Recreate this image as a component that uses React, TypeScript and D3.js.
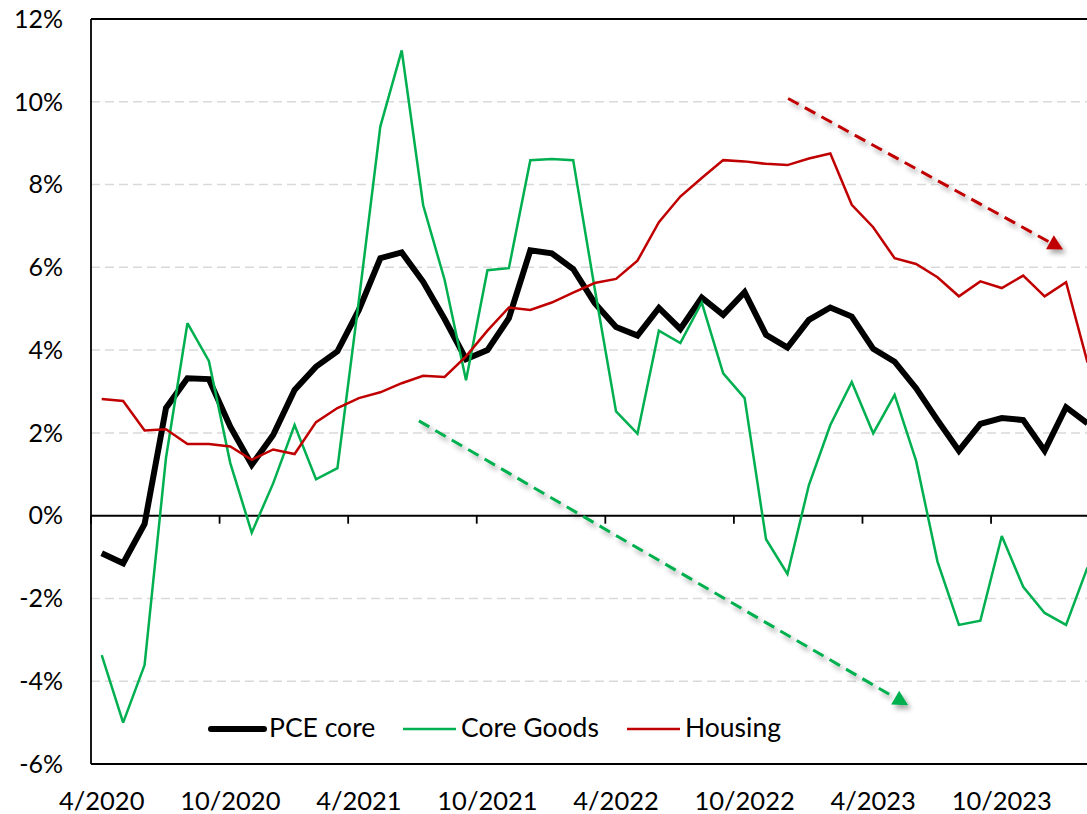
import React, { useEffect, useRef } from "react";
import * as d3 from "d3";

// monthly categories, 4/2020 .. 2/2024
const months = [
  "4/2020", "5/2020", "6/2020", "7/2020", "8/2020", "9/2020", "10/2020", "11/2020", "12/2020",
  "1/2021", "2/2021", "3/2021", "4/2021", "5/2021", "6/2021", "7/2021", "8/2021", "9/2021",
  "10/2021", "11/2021", "12/2021", "1/2022", "2/2022", "3/2022", "4/2022", "5/2022", "6/2022",
  "7/2022", "8/2022", "9/2022", "10/2022", "11/2022", "12/2022", "1/2023", "2/2023", "3/2023",
  "4/2023", "5/2023", "6/2023", "7/2023", "8/2023", "9/2023", "10/2023", "11/2023", "12/2023",
  "1/2024", "2/2024",
];

const pceCore = [
  -0.91, -1.15, -0.2, 2.6, 3.32, 3.3, 2.15, 1.23, 1.95, 3.04, 3.6, 3.97, 4.97, 6.22, 6.36, 5.65,
  4.75, 3.78, 4.0, 4.77, 6.41, 6.34, 5.96, 5.14, 4.56, 4.35, 5.02, 4.51, 5.27, 4.85, 5.4, 4.37,
  4.06, 4.73, 5.03, 4.81, 4.03, 3.72, 3.08, 2.31, 1.57, 2.22, 2.36, 2.31, 1.57, 2.62, 2.23,
];

const coreGoods = [
  -3.37, -5.0, -3.61, 1.4, 4.65, 3.74, 1.27, -0.41, 0.78, 2.19, 0.88, 1.15, 5.2, 9.4, 11.24, 7.5,
  5.7, 3.27, 5.93, 5.98, 8.59, 8.62, 8.59, 5.5, 2.52, 1.98, 4.47, 4.17, 5.15, 3.44, 2.84, -0.57,
  -1.41, 0.74, 2.19, 3.23, 1.99, 2.92, 1.33, -1.11, -2.64, -2.54, -0.49, -1.72, -2.35, -2.64, -1.25,
];

const housing = [
  2.82, 2.77, 2.06, 2.09, 1.73, 1.73, 1.67, 1.35, 1.6, 1.49, 2.26, 2.6, 2.84, 2.98, 3.2, 3.38,
  3.35, 3.85, 4.47, 5.03, 4.97, 5.15, 5.39, 5.62, 5.72, 6.16, 7.09, 7.71, 8.16, 8.59, 8.56, 8.5,
  8.47, 8.63, 8.75, 7.51, 6.97, 6.22, 6.08, 5.76, 5.3, 5.66, 5.5, 5.8, 5.3, 5.64, 3.7,
];

const yTicks = [-6, -4, -2, 0, 2, 4, 6, 8, 10, 12];

// trend arrows: [month index, value]
const housingTrend = [[32.03, 10.08], [44.86, 6.43]];
const goodsTrend = [[14.8, 2.29], [37.63, -4.58]];

const series = [
  { name: "PCE core", values: pceCore, color: "#000000", width: 6 },
  { name: "Core Goods", values: coreGoods, color: "#00B050", width: 2.5 },
  { name: "Housing", values: housing, color: "#C00000", width: 2.5 },
];

const FONT = "Lato, 'Open Sans', sans-serif";

export default function App() {
  const ref = useRef<SVGSVGElement>(null);

  useEffect(() => {
    const svg = d3.select(ref.current);
    svg.selectAll("*").remove();

    const left = 91, top = 19, bottom = 764;
    const step = 21.43;
    const n = months.length;

    const x = d3.scaleLinear().domain([-0.5, n - 0.5]).range([left, left + step * n]);
    const y = d3.scaleLinear().domain([-6, 12]).range([bottom, top]);

    const defs = svg.append("defs");
    const f = defs.append("filter").attr("id", "shadow").attr("x", "-20%").attr("y", "-20%")
      .attr("width", "140%").attr("height", "140%");
    f.append("feDropShadow").attr("dx", 3).attr("dy", 4).attr("stdDeviation", 2.5)
      .attr("flood-color", "#000").attr("flood-opacity", 0.35);

    // gridlines
    svg.append("g").selectAll("line")
      .data(yTicks.filter(d => d !== 0 && d !== -6 && d !== 12))
      .enter().append("line")
      .attr("x1", left).attr("x2", 1087)
      .attr("y1", d => y(d)).attr("y2", d => y(d))
      .attr("stroke", "#d9d9d9").attr("stroke-width", 1.5).attr("stroke-dasharray", "9,5");

    // frame
    svg.append("line").attr("x1", left).attr("x2", 1087).attr("y1", y(12)).attr("y2", y(12))
      .attr("stroke", "#000").attr("stroke-width", 1.8);
    svg.append("line").attr("x1", left).attr("x2", 1087).attr("y1", y(-6)).attr("y2", y(-6))
      .attr("stroke", "#000").attr("stroke-width", 1.8);
    svg.append("line").attr("x1", left).attr("x2", left).attr("y1", y(12)).attr("y2", y(-6))
      .attr("stroke", "#000").attr("stroke-width", 1.8);

    // zero axis with ticks between categories
    svg.append("line").attr("x1", left).attr("x2", 1087).attr("y1", y(0)).attr("y2", y(0))
      .attr("stroke", "#000").attr("stroke-width", 2);
    const tickIdx = d3.range(-0.5, n, 6);
    svg.append("g").selectAll("line").data(tickIdx).enter().append("line")
      .attr("x1", d => x(d)).attr("x2", d => x(d))
      .attr("y1", y(0)).attr("y2", y(0) + 8)
      .attr("stroke", "#000").attr("stroke-width", 1.8);

    // y labels
    svg.append("g").selectAll("text").data(yTicks).enter().append("text")
      .attr("x", 63).attr("y", d => y(d)).attr("dy", "0.35em")
      .attr("text-anchor", "end").attr("font-family", FONT).attr("font-size", 25)
      .attr("fill", "#000").text(d => d + "%");

    // x labels
    svg.append("g").selectAll("text")
      .data(months.map((m, i) => ({ m, i })).filter(d => d.i % 6 === 0))
      .enter().append("text")
      .attr("x", d => x(d.i)).attr("y", 810)
      .attr("text-anchor", "middle").attr("font-family", FONT).attr("font-size", 25.5)
      .attr("fill", "#000").text(d => d.m);

    // series
    const line = d3.line<number>().x((_, i) => x(i)).y(d => y(d));
    series.forEach(s => {
      svg.append("path").datum(s.values)
        .attr("d", line)
        .attr("fill", "none").attr("stroke", s.color).attr("stroke-width", s.width)
        .attr("stroke-linejoin", "miter").attr("stroke-miterlimit", 3);
    });

    // trend arrows
    const arrow = (pts: number[][], color: string) => {
      const [x0, y0] = [x(pts[0][0]), y(pts[0][1])];
      const [x1, y1] = [x(pts[1][0]), y(pts[1][1])];
      const len = Math.hypot(x1 - x0, y1 - y0);
      const ux = (x1 - x0) / len, uy = (y1 - y0) / len;
      const hl = 15, hw = 8;
      const bx = x1 - ux * hl, by = y1 - uy * hl;
      const g = svg.append("g").attr("filter", "url(#shadow)");
      g.append("line").attr("x1", x0).attr("y1", y0).attr("x2", bx).attr("y2", by)
        .attr("stroke", color).attr("stroke-width", 3).attr("stroke-dasharray", "12,7");
      g.append("polygon")
        .attr("points", [
          [x1, y1],
          [bx - uy * hw, by + ux * hw],
          [bx + uy * hw, by - ux * hw],
        ].map(p => p.join(",")).join(" "))
        .attr("fill", color);
    };
    arrow(housingTrend, "#C00000");
    arrow(goodsTrend, "#00B050");

    // legend
    const legendX = [211, 403, 627];
    const ly = 729;
    series.forEach((s, k) => {
      svg.append("line").attr("x1", legendX[k]).attr("x2", legendX[k] + 53)
        .attr("y1", ly).attr("y2", ly)
        .attr("stroke", s.color).attr("stroke-width", s.width).attr("stroke-linecap", k === 0 ? "round" : "butt");
      svg.append("text").attr("x", legendX[k] + 58).attr("y", 737)
        .attr("font-family", FONT).attr("font-size", 26.5).attr("fill", "#000").text(s.name);
    });
  }, []);

  return (
    <svg ref={ref} width={1087} height={814}
      style={{ position: "absolute", left: 0, top: 0, background: "#fff" }} />
  );
}
